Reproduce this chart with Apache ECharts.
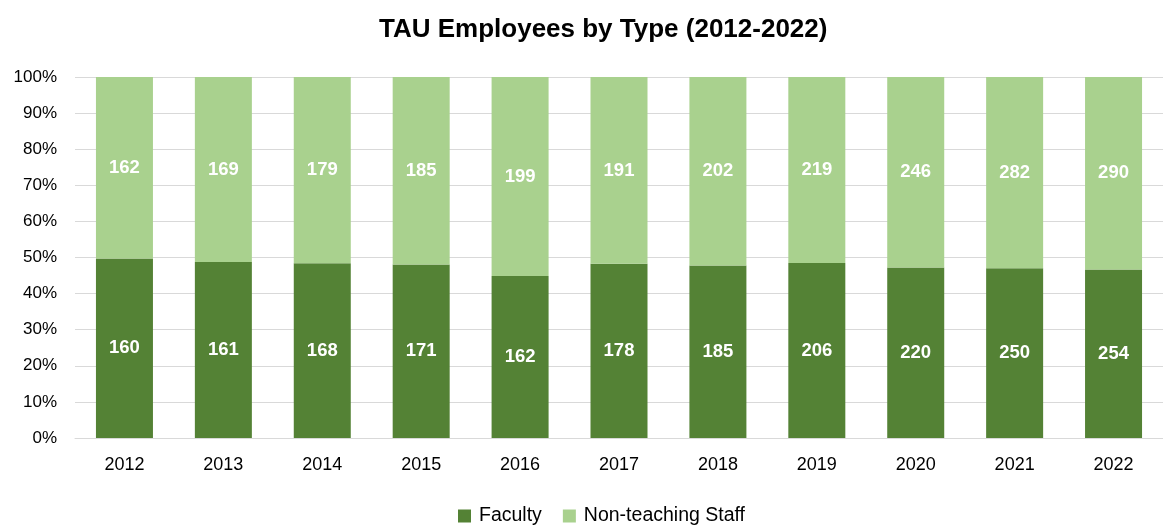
<!DOCTYPE html>
<html>
<head>
<meta charset="utf-8">
<script src="https://cdn.jsdelivr.net/npm/echarts@6/dist/echarts.min.js"></script>
<style>
  html, body { margin: 0; padding: 0; background: #fff; }
  #chart { width: 1163px; height: 526px; }
</style>
</head>
<body>
<div id="chart"></div>
<script>
const years = ['2012', '2013', '2014', '2015', '2016', '2017', '2018', '2019', '2020', '2021', '2022']
const faculty = [160, 161, 168, 171, 162, 178, 185, 206, 220, 250, 254]
const staff = [162, 169, 179, 185, 199, 191, 202, 219, 246, 282, 290]

const font = '"Liberation Sans", Arial, sans-serif'

// share of each year's total, counts are kept for the labels
function toShare(values) {
    return values.map((v, i) => ({
        value: v / (faculty[i] + staff[i]) * 100,
        count: v
    }))
}

const barLabel = {
    show: true,
    position: 'inside',
    color: '#fff',
    fontFamily: font,
    fontWeight: 'bold',
    fontSize: 18.5,
    formatter: p => p.data.count
}

const myChart = echarts.init(document.getElementById('chart'))
myChart.setOption({
    animation: false,
    title: {
        text: 'TAU Employees by Type (2012-2022)',
        left: 374,
        top: 12,
        textStyle: { fontFamily: font, fontWeight: 'bold', fontSize: 26, color: '#000' }
    },
    legend: {
        top: 501,
        left: 453,
        itemWidth: 13,
        itemHeight: 13,
        itemGap: 21,
        icon: 'rect',
        textStyle: { fontFamily: font, fontSize: 19.5, color: '#000', padding: [0, 0, 0, 3] },
        data: ['Faculty', 'Non-teaching Staff']
    },
    grid: { left: 75, right: -1, top: 77, bottom: 88 },
    xAxis: {
        type: 'category',
        data: years,
        axisTick: { show: false },
        axisLine: { lineStyle: { color: '#d9d9d9', width: 1 } },
        axisLabel: { fontFamily: font, fontSize: 18, color: '#000', margin: 18 }
    },
    yAxis: {
        type: 'value',
        min: 0,
        max: 100,
        interval: 10,
        axisLabel: { fontFamily: font, fontSize: 17, color: '#000', formatter: '{value}%', margin: 18 },
        splitLine: { lineStyle: { color: '#d9d9d9', width: 1 } }
    },
    series: [
        {
            name: 'Faculty',
            type: 'bar',
            stack: 'total',
            barWidth: 57,
            itemStyle: { color: '#548235' },
            label: barLabel,
            data: toShare(faculty)
        },
        {
            name: 'Non-teaching Staff',
            type: 'bar',
            stack: 'total',
            barWidth: 57,
            itemStyle: { color: '#a9d18e' },
            label: barLabel,
            data: toShare(staff)
        }
    ]
})
</script>
</body>
</html>
